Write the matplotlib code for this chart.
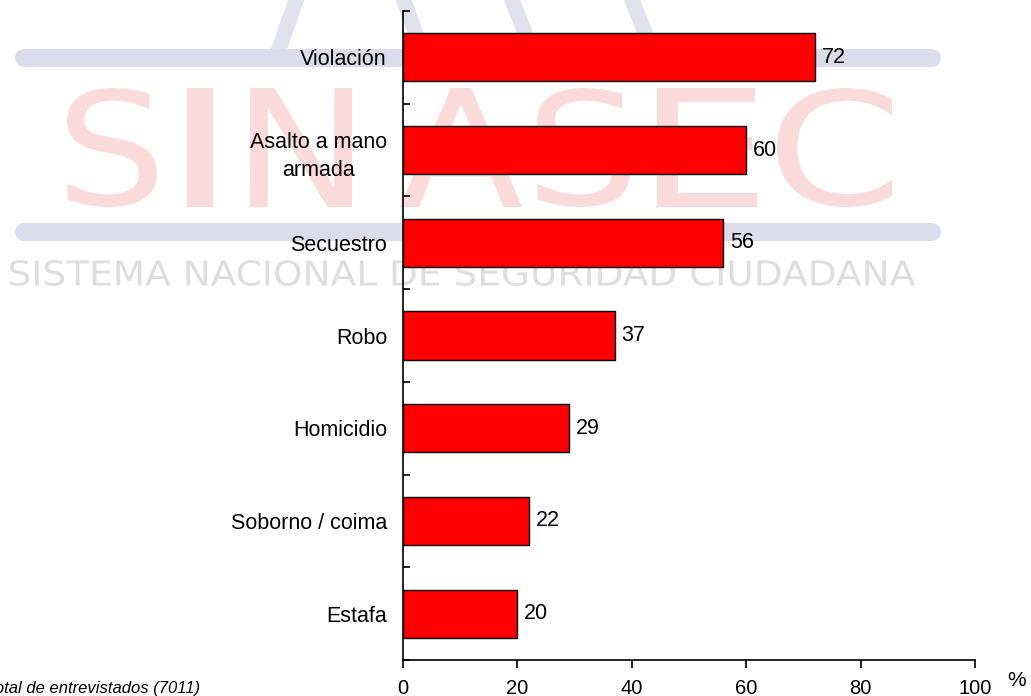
import numpy as np
import matplotlib
matplotlib.use('Agg')
import matplotlib.pyplot as plt
from matplotlib.lines import Line2D
from matplotlib.textpath import TextPath
from matplotlib.patches import PathPatch
from matplotlib.path import Path
from matplotlib.font_manager import FontProperties

# datos
delitos = ['Violación', 'Asalto a mano\narmada', 'Secuestro', 'Robo',
           'Homicidio', 'Soborno / coima', 'Estafa']
porcentaje = [72, 60, 56, 37, 29, 22, 20]
xticks = [0, 20, 40, 60, 80, 100]
nota = 'Base: Total de entrevistados (7011)'

plt.rcParams['font.family'] = ['Liberation Sans', 'DejaVu Sans']

W, H = 1031, 696
fig = plt.figure(figsize=(W / 100, H / 100), dpi=100)


def fx(x):
    return x / W


def fy(y):
    return 1 - y / H


def sello(texto, x0, x1, y_top, y_bot, color, fam='DejaVu Sans'):
    # texto de la marca de agua estirado a una caja en pixeles
    tp = TextPath((0, 0), texto, size=100, prop=FontProperties(family=fam))
    v = tp.vertices.copy()
    bb = tp.get_extents()
    px = x0 + (v[:, 0] - bb.x0) / bb.width * (x1 - x0)
    py = y_bot - (v[:, 1] - bb.y0) / bb.height * (y_bot - y_top)
    v[:, 0] = fx(px)
    v[:, 1] = fy(py)
    p = PathPatch(Path(v, tp.codes), transform=fig.transFigure,
                  facecolor=color, edgecolor='none', zorder=-2)
    fig.add_artist(p)


# marca de agua SINASEC
gris = '#dcdcec'
rosa = '#fbdada'
for (xa, ya), (xb, yb) in [((298, -5), (278, 52)), ((402, -5), (418, 40)),
                           ((510, -5), (528, 40)), ((630, -5), (648, 40))]:
    fig.add_artist(Line2D([fx(xa), fx(xb)], [fy(ya), fy(yb)], transform=fig.transFigure,
                          color='#e2e2ef', lw=11, zorder=-3))
for yb in [58, 232]:
    fig.add_artist(Line2D([fx(24), fx(932)], [fy(yb), fy(yb)], transform=fig.transFigure,
                          color=gris, lw=13, solid_capstyle='round', zorder=-3))
for letra, x0, x1 in [('S', 67, 157), ('I', 187, 213), ('N', 250, 352), ('A', 400, 522),
                      ('S', 537, 630), ('E', 657, 757), ('C', 777, 892)]:
    sello(letra, x0, x1, 88, 207, rosa)
sello('SISTEMA NACIONAL DE SEGURIDAD CIUDADANA', 10, 915, 260, 286, '#dedede')

ax = fig.add_axes([fx(403), fy(660), fx(975) - fx(403), fy(11) - fy(660)])
ax.set_facecolor('none')

y = np.arange(len(delitos))
ax.barh(y, porcentaje, height=0.52, color='#ff0000', edgecolor='black', linewidth=1)
for yi, v in zip(y, porcentaje):
    ax.text(v + 1.2, yi, str(v), va='center', ha='left', fontsize=15.5)

ax.set_ylim(len(delitos) - 0.5, -0.5)
ax.set_xlim(0, 100)
ax.set_yticks(y)
ax.set_yticklabels(delitos)
for lab in ax.get_yticklabels():
    lab.set_multialignment('center')
    lab.set_linespacing(1.45)
ax.set_yticks(np.arange(len(delitos) + 1) - 0.5, minor=True)
ax.tick_params(axis='y', which='major', length=0, pad=11.5, labelsize=15.5)
ax.tick_params(axis='y', which='minor', direction='in', length=5, width=1.2)
ax.set_xticks(xticks)
ax.tick_params(axis='x', direction='out', length=6, width=1.2, pad=7.5, labelsize=14.5)
ax.spines['top'].set_visible(False)
ax.spines['right'].set_visible(False)
ax.spines['left'].set_linewidth(1.2)
ax.spines['bottom'].set_linewidth(1.2)

fig.text(fx(1017), fy(681), '%', ha='center', va='center', fontsize=15)
fig.text(fx(200), fy(689), nota, ha='right', va='center', style='italic', fontsize=12)

fig.savefig('out.png', dpi=100)
